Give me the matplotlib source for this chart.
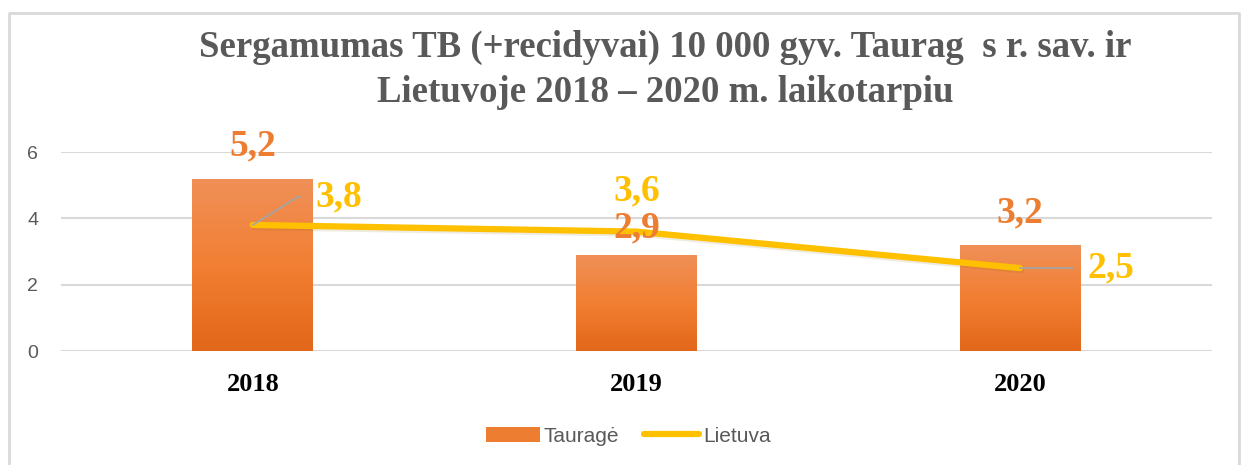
import matplotlib
matplotlib.use("Agg")
import matplotlib.pyplot as plt
import numpy as np
from matplotlib.colors import LinearSegmentedColormap
from matplotlib.lines import Line2D
from matplotlib.patches import Patch
import matplotlib.patheffects as pe

# data
years = ["2018", "2019", "2020"]
taurage = [5.2, 2.9, 3.2]
lietuva = [3.8, 3.6, 2.5]
taurage_txt = ["5,2", "2,9", "3,2"]
lietuva_txt = ["3,8", "3,6", "2,5"]
yticks = [0, 2, 4, 6]

ORANGE = "#ED7D31"
YELLOW = "#FFC000"
GRID = "#D9D9D9"
GREY_TXT = "#595959"
SERIF = ["Liberation Serif", "DejaVu Serif"]
SANS = ["Liberation Sans", "DejaVu Sans"]

fig = plt.figure(figsize=(12.43, 4.65), dpi=100)
W, H = 1243, 465

# outer chart frame (open at the bottom, as in the source crop)
fig.add_artist(plt.Line2D([9 / W, 9 / W, 1239 / W, 1239 / W],
                          [0, 1 - 13 / H, 1 - 13 / H, 0],
                          color=GRID, lw=2, transform=fig.transFigure))

ax = fig.add_axes([61 / W, 1 - 351 / H, (1212 - 61) / W, (351 - 152) / H])

x = np.arange(len(years))
bw = 0.315

# bars with a soft vertical gradient
grad_cmap = LinearSegmentedColormap.from_list("og", ["#E2671A", "#F27F33", "#EF9058"])
bars = ax.bar(x, taurage, width=bw, color=ORANGE, zorder=2)
for b in bars:
    x0, w, h = b.get_x(), b.get_width(), b.get_height()
    g = np.linspace(0, 1, 256).reshape(-1, 1)
    im = ax.imshow(g, extent=[x0, x0 + w, 0, h], origin="lower",
                   aspect="auto", cmap=grad_cmap, zorder=2.1)
    im.set_clip_path(b)

ax.plot(x, lietuva, color=YELLOW, lw=4.5, solid_capstyle="round", zorder=3,
        path_effects=[pe.SimpleLineShadow(offset=(1, -1.5), alpha=0.12,
                                          shadow_color="#7F6000"),
                      pe.Normal()])

ax.set_xlim(-0.5, 2.5)
ax.set_ylim(0, 6)
ax.set_yticks(yticks)
ax.set_yticklabels([str(t) for t in yticks], fontsize=14, color=GREY_TXT,
                   family=SANS)
ax.set_xticks(x)
ax.set_xticklabels(years, fontsize=19, fontweight="bold", family=SERIF,
                   color="black")
ax.tick_params(axis="y", length=0, pad=16.5)
ax.tick_params(axis="x", length=0, pad=16)
ax.grid(axis="y", color=GRID, lw=1.5, zorder=0)
for s in ax.spines.values():
    s.set_visible(False)

# data labels
bar_off = [(0, 33), (0, 27), (0, 32)]
for xi, v, t, off in zip(x, taurage, taurage_txt, bar_off):
    ax.annotate(t, (xi, v), xytext=off, textcoords="offset pixels",
                ha="center", va="center", fontsize=27, fontweight="bold",
                family=SERIF, color=ORANGE, zorder=5, annotation_clip=False)

line_off = [(86, 28), (0, 41), (91, 0)]
leader = ["angle,angleA=0,angleB=32,rad=0", None, "arc3,rad=0"]
for xi, v, t, off, ld in zip(x, lietuva, lietuva_txt, line_off, leader):
    ap = None
    if ld:
        ap = dict(arrowstyle="-", color="#A5A5A5", lw=1.3, shrinkA=9,
                  shrinkB=0, relpos=(0, 0.5), connectionstyle=ld)
    ax.annotate(t, (xi, v), xytext=off, textcoords="offset pixels",
                ha="center", va="center", fontsize=27, fontweight="bold",
                family=SERIF, color=YELLOW, zorder=5, annotation_clip=False,
                arrowprops=ap)

fig.text(665 / W, 1 - 47 / H, "Sergamumas TB (+recidyvai) 10 000 gyv. Taurag  s r. sav. ir",
         ha="center", va="center", fontsize=26.5, fontweight="bold",
         family=SERIF, color=GREY_TXT)
fig.text(665 / W, 1 - 92 / H, "Lietuvoje 2018 – 2020 m. laikotarpiu",
         ha="center", va="center", fontsize=26.5, fontweight="bold",
         family=SERIF, color=GREY_TXT)

handles = [Patch(facecolor=ORANGE, edgecolor="none"),
           Line2D([0], [0], color=YELLOW, lw=4.5, solid_capstyle="round")]
fig.legend(handles, ["Tauragė", "Lietuva"], loc="center",
           bbox_to_anchor=(628 / W, 1 - 436 / H), ncol=2, frameon=False,
           handlelength=2.6, handletextpad=0.2, columnspacing=1.2,
           prop={"family": SANS, "size": 15}, labelcolor=GREY_TXT)

fig.savefig("out.png", dpi=100)
